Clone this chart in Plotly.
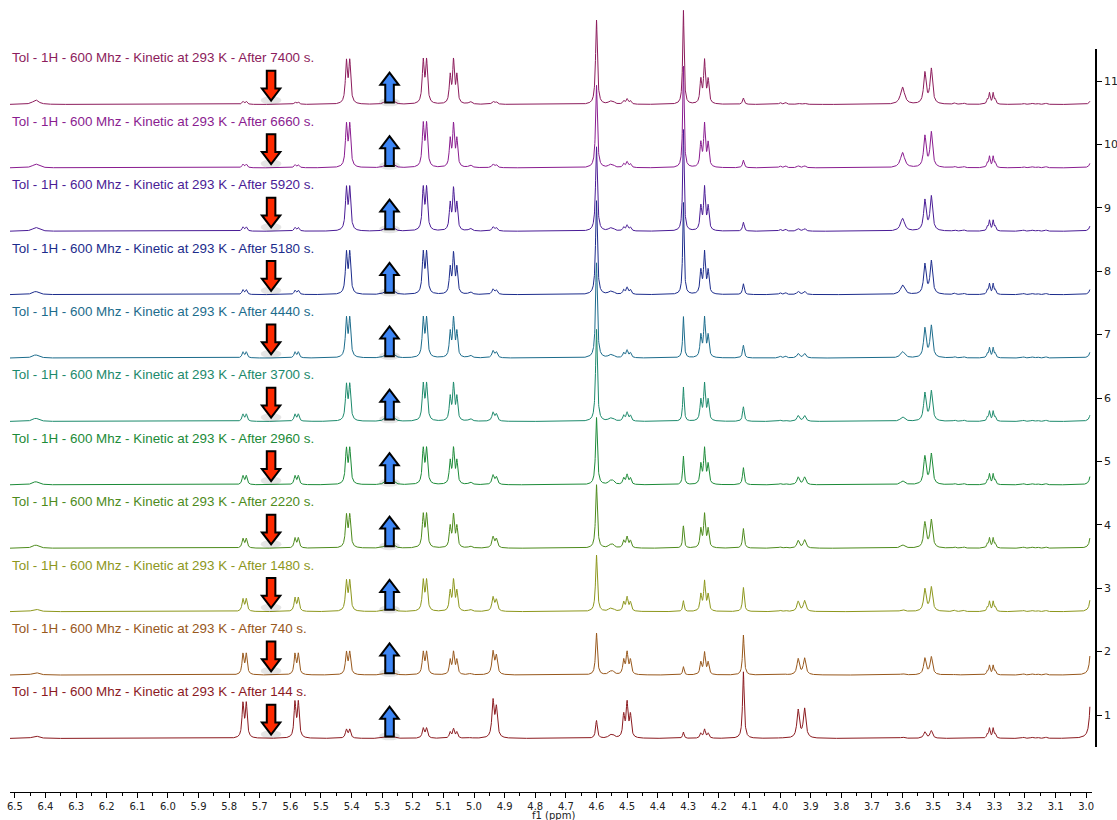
import numpy as np
import plotly.graph_objects as go

# ---- acquisition series (bottom to top) ----
times_s = [144, 740, 1480, 2220, 2960, 3700, 4440, 5180, 5920, 6660, 7400]
offsets = [1, 2, 3, 4, 5, 6, 7, 8, 9, 10, 11]
colors = ["#8b1a1f", "#98581c", "#8d971c", "#4d8b1c", "#1c8b38", "#1c8a6c",
          "#1c6c8c", "#1c2c8c", "#4a1c96", "#8a1c90", "#8c1c5c"]
baseline_shift = -0.37

# ---- resonances: line positions (ppm), relative line intensities, half width (ppm)
site_lines = {
    "6.43": ([6.432], [1.0], 0.012),
    "5.75": ([5.755, 5.744], [1.0, 1.0], 0.0036),
    "5.58": ([5.585, 5.574], [1.0, 1.0], 0.0036),
    "5.41": ([5.417, 5.406], [1.0, 1.0], 0.0038),
    "5.28": ([5.290, 5.276, 5.262], [0.8, 1.0, 0.8], 0.007),
    "5.16": ([5.166, 5.155], [1.0, 1.0], 0.0038),
    "5.07": ([5.078, 5.067, 5.056], [0.65, 1.0, 0.65], 0.0034),
    "5.01": ([5.012], [1.0], 0.006),
    "4.93": ([4.938, 4.927], [1.0, 0.8], 0.0042),
    "4.60": ([4.600], [1.0], 0.0034),
    "4.55": ([4.556, 4.546], [1.0, 1.0], 0.006),
    "4.50": ([4.511, 4.500, 4.489], [0.65, 1.0, 0.65], 0.0036),
    "4.31": ([4.316], [1.0], 0.0027),
    "4.25": ([4.259, 4.247, 4.235], [0.55, 1.0, 0.55], 0.0034),
    "4.12": ([4.120], [1.0], 0.0032),
    "4.00": ([4.000, 3.982], [1.0, 1.0], 0.004),
    "3.94": ([3.941], [1.0], 0.0048),
    "3.92": ([3.920], [1.0], 0.0048),
    "3.60": ([3.600], [1.0], 0.008),
    "3.53": ([3.527], [1.0], 0.0048),
    "3.51": ([3.506], [1.0], 0.0048),
    "3.43": ([3.430, 3.400], [1.0, 1.0], 0.004),
    "3.31": ([3.323, 3.316, 3.304, 3.297], [0.4, 1.0, 1.0, 0.4], 0.0027),
    "3.17": ([3.205, 3.177, 3.159, 3.131], [1.0, 1.0, 1.0, 1.0], 0.004),
    "edge": ([2.982], [1.0], 0.004),
}

# ---- peak heights per resonance, one value per spectrum (144 s ... 7400 s)
peak_heights = {
    "6.43": [0.04, 0.04, 0.04, 0.05, 0.05, 0.05, 0.05, 0.05, 0.06, 0.06, 0.07],
    "5.75": [0.58, 0.35, 0.21, 0.16, 0.15, 0.12, 0.10, 0.08, 0.07, 0.06, 0.05],
    "5.58": [0.60, 0.35, 0.23, 0.17, 0.15, 0.12, 0.10, 0.07, 0.06, 0.05, 0.04],
    "5.41": [0.15, 0.38, 0.51, 0.55, 0.60, 0.61, 0.66, 0.70, 0.72, 0.72, 0.72],
    "5.28": [0.03, 0.04, 0.05, 0.06, 0.07, 0.07, 0.07, 0.07, 0.06, 0.06, 0.06],
    "5.16": [0.17, 0.38, 0.52, 0.56, 0.60, 0.62, 0.66, 0.70, 0.72, 0.73, 0.73],
    "5.07": [0.16, 0.38, 0.52, 0.55, 0.60, 0.62, 0.66, 0.68, 0.70, 0.72, 0.73],
    "5.01": [0.01, 0.02, 0.03, 0.03, 0.04, 0.04, 0.04, 0.04, 0.04, 0.04, 0.04],
    "4.93": [0.63, 0.39, 0.24, 0.19, 0.16, 0.15, 0.12, 0.09, 0.07, 0.06, 0.05],
    "4.60": [0.28, 0.66, 0.89, 1.00, 1.06, 1.45, 1.50, 1.48, 1.33, 1.30, 1.33],
    "4.55": [0.06, 0.06, 0.05, 0.06, 0.07, 0.05, 0.05, 0.05, 0.05, 0.05, 0.05],
    "4.50": [0.60, 0.38, 0.24, 0.19, 0.17, 0.15, 0.13, 0.12, 0.10, 0.10, 0.09],
    "4.31": [0.10, 0.13, 0.17, 0.35, 0.45, 0.54, 0.65, 1.45, 1.60, 1.60, 1.48],
    "4.25": [0.15, 0.37, 0.50, 0.56, 0.60, 0.62, 0.66, 0.70, 0.72, 0.72, 0.72],
    "4.12": [1.05, 0.63, 0.38, 0.31, 0.27, 0.23, 0.20, 0.17, 0.14, 0.12, 0.10],
    "4.00": [0.01, 0.01, 0.02, 0.02, 0.02, 0.02, 0.03, 0.03, 0.03, 0.03, 0.03],
    "3.94": [0.44, 0.25, 0.16, 0.12, 0.12, 0.09, 0.07, 0.05, 0.04, 0.03, 0.02],
    "3.92": [0.46, 0.26, 0.17, 0.13, 0.12, 0.09, 0.07, 0.05, 0.04, 0.03, 0.02],
    "3.60": [0.02, 0.02, 0.03, 0.05, 0.06, 0.07, 0.10, 0.15, 0.20, 0.24, 0.27],
    "3.53": [0.10, 0.26, 0.35, 0.40, 0.44, 0.44, 0.46, 0.47, 0.48, 0.49, 0.49],
    "3.51": [0.12, 0.28, 0.38, 0.44, 0.48, 0.47, 0.50, 0.52, 0.54, 0.55, 0.55],
    "3.43": [0.01, 0.01, 0.02, 0.02, 0.02, 0.02, 0.02, 0.02, 0.02, 0.02, 0.02],
    "3.31": [0.17, 0.16, 0.17, 0.17, 0.18, 0.17, 0.17, 0.18, 0.18, 0.19, 0.19],
    "3.17": [0.02, 0.02, 0.02, 0.02, 0.02, 0.02, 0.02, 0.02, 0.02, 0.02, 0.02],
    "edge": [0.50, 0.30, 0.18, 0.16, 0.13, 0.10, 0.09, 0.08, 0.08, 0.07, 0.05],
}

# arrows marking the decaying (red) and growing (blue) signals
arrow_ppm = {"down": 5.663, "up": 5.276}
arrow_fill = {"down": "#ff2a00", "up": "#3d86f5"}

# ---- spectra ----
ppm = np.linspace(6.517, 2.988, 7060)


def site_profile(name):
    pos, wts, g = site_lines[name]
    prof = np.zeros_like(ppm)
    for p, w in zip(pos, wts):
        prof += w / (1.0 + ((ppm - p) / g) ** 2)
    if name == "edge":
        return prof / prof[-1]
    return prof / prof.max()


profiles = {name: site_profile(name) for name in site_lines}

fig = go.Figure()

# axis frame used for the offsets scale on the right (drawn first, underneath)
fig.add_trace(go.Scatter(x=[None], y=[None], xaxis="x", yaxis="y2",
                         showlegend=False, hoverinfo="skip"))

for i, (t, off, col) in enumerate(zip(times_s, offsets, colors)):
    y = np.full_like(ppm, off + baseline_shift)
    for name, hs in peak_heights.items():
        y = y + hs[i] * profiles[name]
    fig.add_trace(go.Scatter(x=ppm, y=y, mode="lines",
                             line=dict(color=col, width=1),
                             hoverinfo="skip", showlegend=False))
    fig.add_annotation(x=0, xref="paper", y=off + 0.363, yref="y",
                       xanchor="left", yanchor="middle", showarrow=False,
                       text=f"Tol - 1H - 600 Mhz - Kinetic at 293 K - After {t} s.",
                       font=dict(family="Liberation Sans, Arial", size=13.4, color=col),
                       xshift=0)

# block arrows (with a soft shadow) drawn in data coordinates on every spectrum
hw_shaft, hw_head = 0.0140, 0.0300
for off in offsets:
    base = off + baseline_shift
    for kind, xc in arrow_ppm.items():
        if kind == "down":
            y_top, y_tip = base + 0.53, base + 0.06
            y_neck = y_tip + 0.19
            y_shadow = y_tip
        else:
            y_top, y_tip = base + 0.03, base + 0.50
            y_neck = y_tip - 0.19
            y_shadow = y_top
        fig.add_shape(type="circle", xref="x", yref="y",
                      x0=xc - 0.034, x1=xc + 0.034,
                      y0=y_shadow - 0.06, y1=y_shadow + 0.07,
                      fillcolor="rgba(0,0,0,0.10)", line=dict(width=0))
        pts = [(xc - hw_shaft, y_top), (xc + hw_shaft, y_top), (xc + hw_shaft, y_neck),
               (xc + hw_head, y_neck), (xc, y_tip), (xc - hw_head, y_neck),
               (xc - hw_shaft, y_neck)]
        path = "M " + " L ".join(f"{px},{py}" for px, py in pts) + " Z"
        fig.add_shape(type="path", path=path, xref="x", yref="y",
                      fillcolor=arrow_fill[kind], line=dict(color="black", width=2))

px_per_unit = 63.4
y_tick1_px = 715.0
plot_h = 792.0
y_lo = 1 - (plot_h - y_tick1_px) / px_per_unit
y_hi = 1 + y_tick1_px / px_per_unit
ax2_top_px, ax2_bot_px = 49.0, 747.0

fig.add_annotation(x=0.5, xref="paper", y=0, yref="paper", yshift=-23,
                   xanchor="center", yanchor="middle", showarrow=False,
                   text="f1 (ppm)", font=dict(family="DejaVu Sans", size=10, color="#222"))

fig.update_layout(
    width=1117, height=820,
    margin=dict(l=10, r=21, t=0, b=28),
    paper_bgcolor="white", plot_bgcolor="rgba(0,0,0,0)",
    xaxis=dict(range=[6.516, 2.981], domain=[0, 1082 / 1086],
               showline=True, linecolor="black", linewidth=1,
               ticks="outside", ticklen=5, tickcolor="black",
               dtick=0.1, tick0=3.0, tickformat=".1f",
               minor=dict(dtick=0.05, ticks="outside", ticklen=3, tickcolor="black"),
               showgrid=False, zeroline=False,
               tickfont=dict(family="DejaVu Sans", size=10, color="#222")),
    yaxis=dict(range=[y_lo, y_hi], visible=False, fixedrange=True),
    yaxis2=dict(range=[1 - (ax2_bot_px - y_tick1_px) / px_per_unit,
                       1 + (y_tick1_px - ax2_top_px) / px_per_unit],
                domain=[(plot_h - ax2_bot_px) / plot_h, (plot_h - ax2_top_px) / plot_h],
                anchor="free", position=1.0, side="right",
                showline=True, linecolor="black", linewidth=1.5,
                ticks="outside", ticklen=5, tickcolor="black",
                tickvals=offsets, showgrid=False, zeroline=False,
                tickfont=dict(family="DejaVu Sans", size=11, color="#222")),
)

fig.write_html("out.html")
